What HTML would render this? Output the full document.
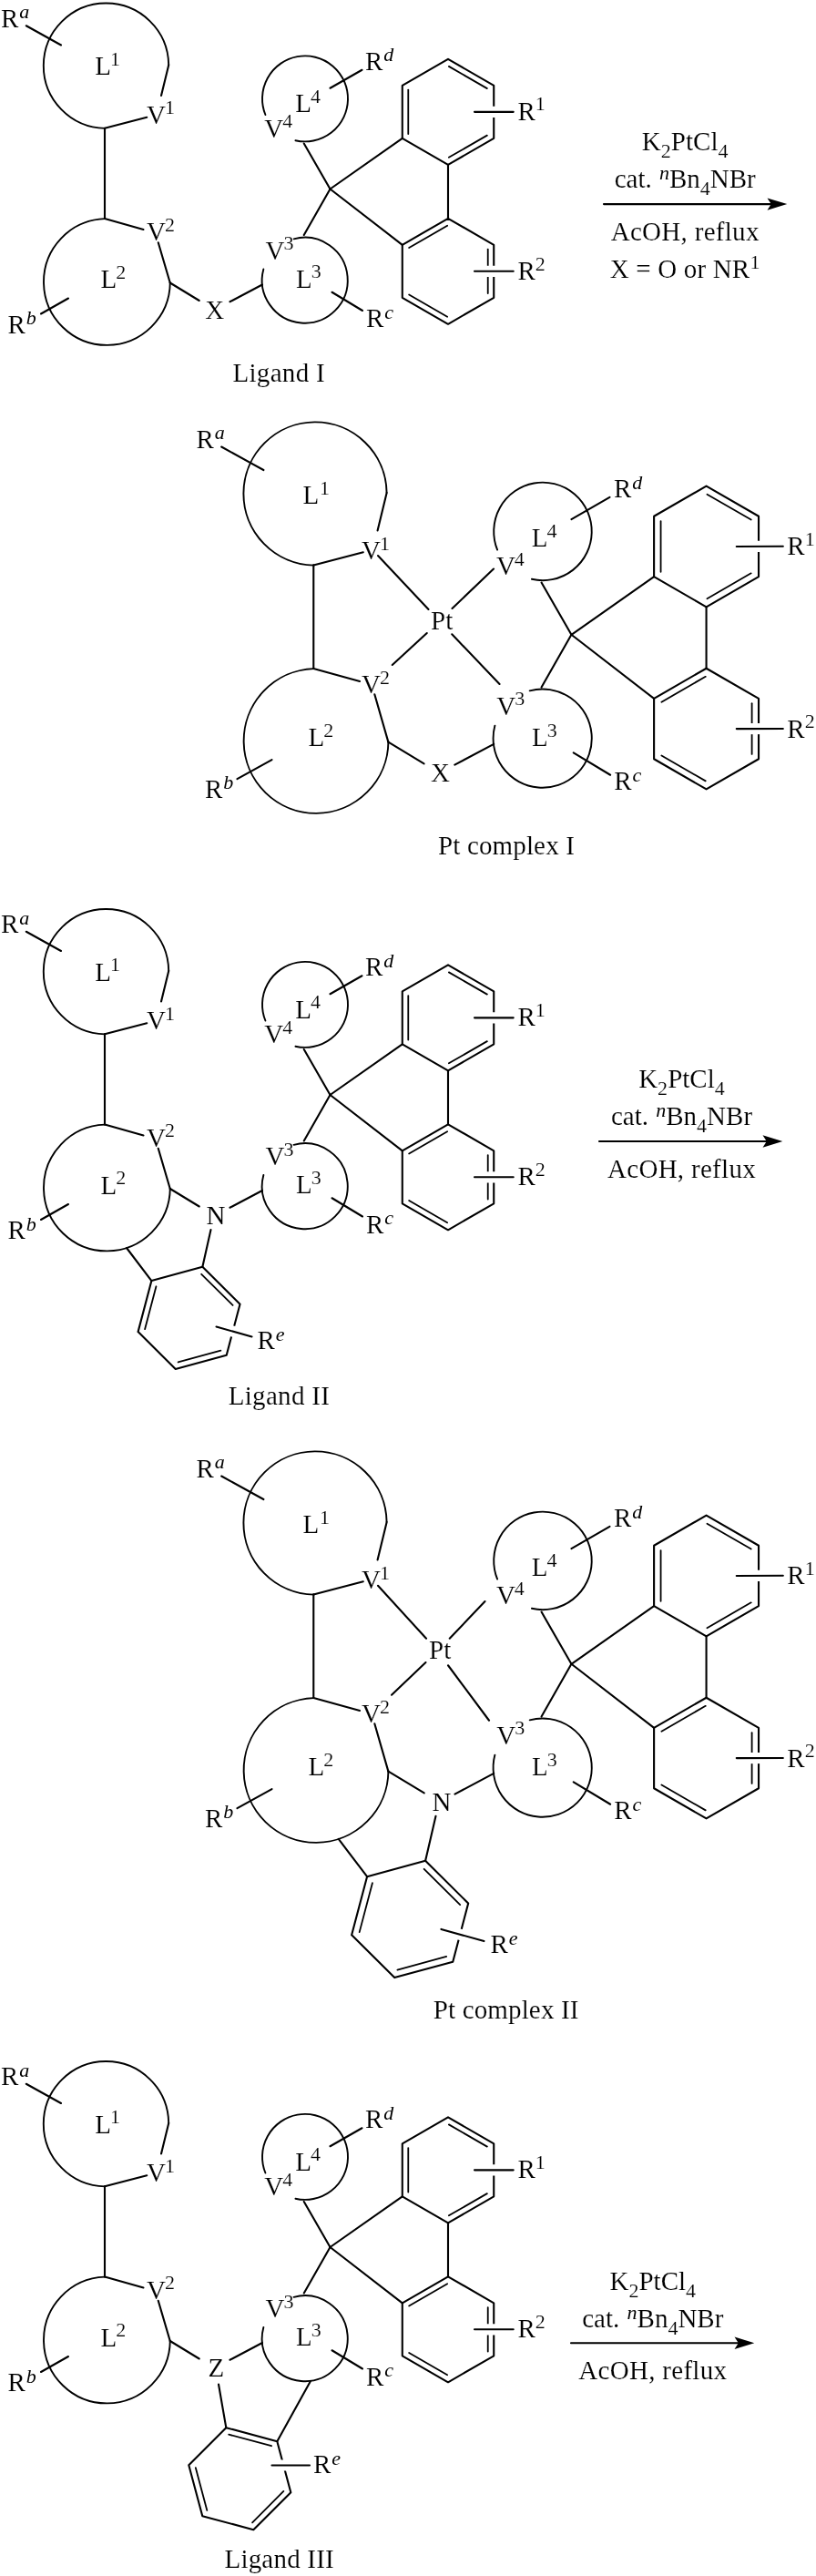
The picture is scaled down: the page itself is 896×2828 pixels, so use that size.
<!DOCTYPE html>
<html><head><meta charset="utf-8"><title>Pt complex synthesis</title>
<style>
html,body{margin:0;padding:0;background:#fff}
svg{display:block}
svg text{font-family:"Liberation Serif",serif;font-size:29px;fill:#000;stroke:#fff;stroke-width:0.15px;paint-order:fill stroke}
svg line,svg path,svg polygon{stroke:#000;stroke-linecap:round}
</style></head><body>
<svg style="filter:grayscale(1)" width="896" height="2828" viewBox="0 0 896 2828">
<rect width="896" height="2828" fill="#fff" stroke="none"/>
<path d="M115.3 140.89A68.7 68.7 0 1 1 185.19 71" stroke-width="1.9" fill="none"/>
<path d="M186.8 310.11A69.4 69.4 0 1 1 114.98 240.14" stroke-width="1.9" fill="none"/>
<path d="M322.59 262.3A47 47 0 1 1 289.35 295.54" stroke-width="1.9" fill="none"/>
<path d="M291.42 126.01A47 47 0 1 1 324.43 154.2" stroke-width="1.9" fill="none"/>
<line x1="185.25" y1="71.25" x2="177" y2="105" stroke-width="2.1"/>
<line x1="115" y1="140.75" x2="161.25" y2="128.75" stroke-width="2.1"/>
<line x1="115" y1="140.75" x2="115" y2="240" stroke-width="2.1"/>
<line x1="115" y1="240" x2="157.5" y2="252" stroke-width="2.1"/>
<line x1="173.75" y1="266.25" x2="186.75" y2="310.5" stroke-width="2.1"/>
<line x1="186.75" y1="310.5" x2="218.75" y2="330" stroke-width="2.1"/>
<line x1="252.5" y1="331.25" x2="288" y2="312.5" stroke-width="2.1"/>
<line x1="333.75" y1="157.5" x2="362.5" y2="207.5" stroke-width="2.1"/>
<line x1="362.5" y1="207.5" x2="333.75" y2="258" stroke-width="2.1"/>
<polygon points="492,64.85 542.23,93.85 542.23,151.85 492,180.85 441.77,151.85 441.77,93.85" fill="none" stroke-width="2.1" stroke-linejoin="round"/>
<line x1="492.87" y1="72.86" x2="534.86" y2="97.1" stroke-width="1.8"/>
<line x1="534.86" y1="148.6" x2="492.87" y2="172.84" stroke-width="1.8"/>
<line x1="448.27" y1="147.1" x2="448.27" y2="98.6" stroke-width="1.8"/>
<polygon points="492,239.8 542.23,268.8 542.23,326.8 492,355.8 441.77,326.8 441.77,268.8" fill="none" stroke-width="2.1" stroke-linejoin="round"/>
<line x1="535.73" y1="273.55" x2="535.73" y2="322.05" stroke-width="1.8"/>
<line x1="491.13" y1="347.79" x2="449.14" y2="323.55" stroke-width="1.8"/>
<line x1="449.14" y1="272.05" x2="491.13" y2="247.81" stroke-width="1.8"/>
<line x1="362.5" y1="207.5" x2="441.77" y2="151.85" stroke-width="2.1"/>
<line x1="362.5" y1="207.5" x2="441.77" y2="268.8" stroke-width="2.1"/>
<line x1="492" y1="180.85" x2="492" y2="239.8" stroke-width="2.1"/>
<line x1="521" y1="122.85" x2="563.7" y2="122.85" style="stroke:#fff;stroke-width:12.2;stroke-linecap:butt"/>
<line x1="521" y1="122.85" x2="563.7" y2="122.85" stroke-width="2.1"/>
<line x1="521" y1="297.8" x2="563.7" y2="297.8" style="stroke:#fff;stroke-width:12.2;stroke-linecap:butt"/>
<line x1="521" y1="297.8" x2="563.7" y2="297.8" stroke-width="2.1"/>
<line x1="28.75" y1="28.25" x2="67" y2="49.5" stroke-width="2.1"/>
<line x1="75" y1="327.5" x2="45" y2="344.5" stroke-width="2.1"/>
<line x1="364.5" y1="320.75" x2="398" y2="341" stroke-width="2.1"/>
<line x1="362.5" y1="96.75" x2="397.5" y2="76.75" stroke-width="2.1"/>
<text x="161" y="135.5" text-anchor="start">V<tspan dx="-1" dy="-10.3" font-size="22">1</tspan></text>
<text x="161" y="264.25" text-anchor="start">V<tspan dx="-1" dy="-10.3" font-size="22">2</tspan></text>
<text x="291.5" y="284.75" text-anchor="start">V<tspan dx="-1" dy="-10.3" font-size="22">3</tspan></text>
<text x="290.25" y="150.5" text-anchor="start">V<tspan dx="-1" dy="-10.3" font-size="22">4</tspan></text>
<text x="104.2" y="82" text-anchor="start">L<tspan dx="-1" dy="-10.3" font-size="22">1</tspan></text>
<text x="110.45" y="316.25" text-anchor="start">L<tspan dx="-1" dy="-10.3" font-size="22">2</tspan></text>
<text x="324.95" y="315.5" text-anchor="start">L<tspan dx="-1" dy="-10.3" font-size="22">3</tspan></text>
<text x="324.2" y="123" text-anchor="start">L<tspan dx="-1" dy="-10.3" font-size="22">4</tspan></text>
<text x="1" y="29.5" text-anchor="start">R<tspan dx="1" dy="-9.5" font-size="22" font-style="italic" stroke="none">a</tspan></text>
<text x="8.5" y="365.5" text-anchor="start">R<tspan dx="1" dy="-9.5" font-size="22" font-style="italic" stroke="none">b</tspan></text>
<text x="402" y="359" text-anchor="start">R<tspan dx="1" dy="-9.5" font-size="22" font-style="italic" stroke="none">c</tspan></text>
<text x="401" y="76.75" text-anchor="start">R<tspan dx="1" dy="-9.5" font-size="22" font-style="italic" stroke="none">d</tspan></text>
<text x="568.5" y="131.5" text-anchor="start">R<tspan dy="-10.3" font-size="22">1</tspan></text>
<text x="568.5" y="306.8" text-anchor="start">R<tspan dy="-10.3" font-size="22">2</tspan></text>
<text x="225.25" y="349.5" text-anchor="start">X</text>
<text x="255.5" y="419" text-anchor="start" letter-spacing="0.3">Ligand I</text>
<line x1="663" y1="224.1" x2="847.3" y2="224.1" stroke-width="2.1"/>
<path d="M864.3 224.1L842.5 217.4L846.8 224.1L842.5 230.8Z" style="fill:#000;stroke:none"/>
<text x="752.2" y="165" text-anchor="middle" letter-spacing="0.02">K<tspan dy="8" font-size="22">2</tspan><tspan dy="-8">PtCl</tspan><tspan dy="8" font-size="22">4</tspan></text>
<text x="752.2" y="206" text-anchor="middle">cat. <tspan dx="1" dy="-9.5" font-size="22" font-style="italic" stroke="none">n</tspan><tspan dy="9.5">Bn</tspan><tspan dy="8" font-size="22">4</tspan><tspan dy="-8">NBr</tspan></text>
<text x="752.2" y="263.5" text-anchor="middle" letter-spacing="0.3">AcOH, reflux</text>
<text x="752.2" y="305" text-anchor="middle" letter-spacing="0.17">X = O or NR<tspan dy="-10.3" font-size="22">1</tspan></text>
<path d="M115.3 1135.39A68.7 68.7 0 1 1 185.19 1065.5" stroke-width="1.9" fill="none"/>
<path d="M186.8 1304.61A69.4 69.4 0 1 1 114.98 1234.64" stroke-width="1.9" fill="none"/>
<path d="M322.59 1256.8A47 47 0 1 1 289.35 1290.04" stroke-width="1.9" fill="none"/>
<path d="M291.42 1120.51A47 47 0 1 1 324.43 1148.7" stroke-width="1.9" fill="none"/>
<line x1="185.25" y1="1065.75" x2="177" y2="1099.5" stroke-width="2.1"/>
<line x1="115" y1="1135.25" x2="161.25" y2="1123.25" stroke-width="2.1"/>
<line x1="115" y1="1135.25" x2="115" y2="1234.5" stroke-width="2.1"/>
<line x1="115" y1="1234.5" x2="157.5" y2="1246.5" stroke-width="2.1"/>
<line x1="173.75" y1="1260.75" x2="186.75" y2="1305" stroke-width="2.1"/>
<line x1="186.75" y1="1305" x2="218.75" y2="1324.5" stroke-width="2.1"/>
<line x1="252.5" y1="1325.75" x2="288" y2="1307" stroke-width="2.1"/>
<line x1="333.75" y1="1152" x2="362.5" y2="1202" stroke-width="2.1"/>
<line x1="362.5" y1="1202" x2="333.75" y2="1252.5" stroke-width="2.1"/>
<polygon points="492,1059.35 542.23,1088.35 542.23,1146.35 492,1175.35 441.77,1146.35 441.77,1088.35" fill="none" stroke-width="2.1" stroke-linejoin="round"/>
<line x1="492.87" y1="1067.36" x2="534.86" y2="1091.6" stroke-width="1.8"/>
<line x1="534.86" y1="1143.1" x2="492.87" y2="1167.34" stroke-width="1.8"/>
<line x1="448.27" y1="1141.6" x2="448.27" y2="1093.1" stroke-width="1.8"/>
<polygon points="492,1234.3 542.23,1263.3 542.23,1321.3 492,1350.3 441.77,1321.3 441.77,1263.3" fill="none" stroke-width="2.1" stroke-linejoin="round"/>
<line x1="535.73" y1="1268.05" x2="535.73" y2="1316.55" stroke-width="1.8"/>
<line x1="491.13" y1="1342.29" x2="449.14" y2="1318.05" stroke-width="1.8"/>
<line x1="449.14" y1="1266.55" x2="491.13" y2="1242.31" stroke-width="1.8"/>
<line x1="362.5" y1="1202" x2="441.77" y2="1146.35" stroke-width="2.1"/>
<line x1="362.5" y1="1202" x2="441.77" y2="1263.3" stroke-width="2.1"/>
<line x1="492" y1="1175.35" x2="492" y2="1234.3" stroke-width="2.1"/>
<line x1="521" y1="1117.35" x2="563.7" y2="1117.35" style="stroke:#fff;stroke-width:12.2;stroke-linecap:butt"/>
<line x1="521" y1="1117.35" x2="563.7" y2="1117.35" stroke-width="2.1"/>
<line x1="521" y1="1292.3" x2="563.7" y2="1292.3" style="stroke:#fff;stroke-width:12.2;stroke-linecap:butt"/>
<line x1="521" y1="1292.3" x2="563.7" y2="1292.3" stroke-width="2.1"/>
<line x1="28.75" y1="1022.75" x2="67" y2="1044" stroke-width="2.1"/>
<line x1="75" y1="1322" x2="45" y2="1339" stroke-width="2.1"/>
<line x1="364.5" y1="1315.25" x2="398" y2="1335.5" stroke-width="2.1"/>
<line x1="362.5" y1="1091.25" x2="397.5" y2="1071.25" stroke-width="2.1"/>
<text x="161" y="1130" text-anchor="start">V<tspan dx="-1" dy="-10.3" font-size="22">1</tspan></text>
<text x="161" y="1258.75" text-anchor="start">V<tspan dx="-1" dy="-10.3" font-size="22">2</tspan></text>
<text x="291.5" y="1279.25" text-anchor="start">V<tspan dx="-1" dy="-10.3" font-size="22">3</tspan></text>
<text x="290.25" y="1145" text-anchor="start">V<tspan dx="-1" dy="-10.3" font-size="22">4</tspan></text>
<text x="104.2" y="1076.5" text-anchor="start">L<tspan dx="-1" dy="-10.3" font-size="22">1</tspan></text>
<text x="110.45" y="1310.75" text-anchor="start">L<tspan dx="-1" dy="-10.3" font-size="22">2</tspan></text>
<text x="324.95" y="1310" text-anchor="start">L<tspan dx="-1" dy="-10.3" font-size="22">3</tspan></text>
<text x="324.2" y="1117.5" text-anchor="start">L<tspan dx="-1" dy="-10.3" font-size="22">4</tspan></text>
<text x="1" y="1024" text-anchor="start">R<tspan dx="1" dy="-9.5" font-size="22" font-style="italic" stroke="none">a</tspan></text>
<text x="8.5" y="1360" text-anchor="start">R<tspan dx="1" dy="-9.5" font-size="22" font-style="italic" stroke="none">b</tspan></text>
<text x="402" y="1353.5" text-anchor="start">R<tspan dx="1" dy="-9.5" font-size="22" font-style="italic" stroke="none">c</tspan></text>
<text x="401" y="1071.25" text-anchor="start">R<tspan dx="1" dy="-9.5" font-size="22" font-style="italic" stroke="none">d</tspan></text>
<text x="568.5" y="1126" text-anchor="start">R<tspan dy="-10.3" font-size="22">1</tspan></text>
<text x="568.5" y="1301.3" text-anchor="start">R<tspan dy="-10.3" font-size="22">2</tspan></text>
<text x="226.5" y="1344" text-anchor="start">N</text>
<polygon points="166.39,1406.03 222.37,1390.82 263.52,1431.69 248.71,1487.77 192.73,1502.98 151.58,1462.11" fill="none" stroke-width="2.1" stroke-linejoin="round"/>
<line x1="221.16" y1="1398.79" x2="255.57" y2="1432.96" stroke-width="1.8"/>
<line x1="242.41" y1="1482.74" x2="195.62" y2="1495.46" stroke-width="1.8"/>
<line x1="159.08" y1="1459.17" x2="171.47" y2="1412.29" stroke-width="1.8"/>
<line x1="139" y1="1370" x2="166.39" y2="1406.03" stroke-width="2.1"/>
<line x1="231.5" y1="1350" x2="222.37" y2="1390.82" stroke-width="2.1"/>
<line x1="237.5" y1="1456.5" x2="276.5" y2="1467.5" style="stroke:#fff;stroke-width:12.2;stroke-linecap:butt"/>
<line x1="237.5" y1="1456.5" x2="276.5" y2="1467.5" stroke-width="2.1"/>
<text x="282.5" y="1481" text-anchor="start">R<tspan dx="1" dy="-9.5" font-size="22" font-style="italic" stroke="none">e</tspan></text>
<text x="250.75" y="1541.75" text-anchor="start" letter-spacing="0.3">Ligand II</text>
<line x1="658" y1="1253" x2="842.3" y2="1253" stroke-width="2.1"/>
<path d="M859.3 1253L837.5 1246.3L841.8 1253L837.5 1259.7Z" style="fill:#000;stroke:none"/>
<text x="748.5" y="1194" text-anchor="middle" letter-spacing="0.02">K<tspan dy="8" font-size="22">2</tspan><tspan dy="-8">PtCl</tspan><tspan dy="8" font-size="22">4</tspan></text>
<text x="748.5" y="1235" text-anchor="middle">cat. <tspan dx="1" dy="-9.5" font-size="22" font-style="italic" stroke="none">n</tspan><tspan dy="9.5">Bn</tspan><tspan dy="8" font-size="22">4</tspan><tspan dy="-8">NBr</tspan></text>
<text x="748.5" y="1292.5" text-anchor="middle" letter-spacing="0.3">AcOH, reflux</text>
<path d="M115.3 2400.39A68.7 68.7 0 1 1 185.19 2330.5" stroke-width="1.9" fill="none"/>
<path d="M186.8 2569.61A69.4 69.4 0 1 1 114.98 2499.64" stroke-width="1.9" fill="none"/>
<path d="M322.59 2521.8A47 47 0 1 1 289.35 2555.04" stroke-width="1.9" fill="none"/>
<path d="M291.42 2385.51A47 47 0 1 1 324.43 2413.7" stroke-width="1.9" fill="none"/>
<line x1="185.25" y1="2330.75" x2="177" y2="2364.5" stroke-width="2.1"/>
<line x1="115" y1="2400.25" x2="161.25" y2="2388.25" stroke-width="2.1"/>
<line x1="115" y1="2400.25" x2="115" y2="2499.5" stroke-width="2.1"/>
<line x1="115" y1="2499.5" x2="157.5" y2="2511.5" stroke-width="2.1"/>
<line x1="173.75" y1="2525.75" x2="186.75" y2="2570" stroke-width="2.1"/>
<line x1="186.75" y1="2570" x2="218.75" y2="2589.5" stroke-width="2.1"/>
<line x1="252.5" y1="2590.75" x2="288" y2="2572" stroke-width="2.1"/>
<line x1="333.75" y1="2417" x2="362.5" y2="2467" stroke-width="2.1"/>
<line x1="362.5" y1="2467" x2="333.75" y2="2517.5" stroke-width="2.1"/>
<polygon points="492,2324.35 542.23,2353.35 542.23,2411.35 492,2440.35 441.77,2411.35 441.77,2353.35" fill="none" stroke-width="2.1" stroke-linejoin="round"/>
<line x1="492.87" y1="2332.36" x2="534.86" y2="2356.6" stroke-width="1.8"/>
<line x1="534.86" y1="2408.1" x2="492.87" y2="2432.34" stroke-width="1.8"/>
<line x1="448.27" y1="2406.6" x2="448.27" y2="2358.1" stroke-width="1.8"/>
<polygon points="492,2499.3 542.23,2528.3 542.23,2586.3 492,2615.3 441.77,2586.3 441.77,2528.3" fill="none" stroke-width="2.1" stroke-linejoin="round"/>
<line x1="535.73" y1="2533.05" x2="535.73" y2="2581.55" stroke-width="1.8"/>
<line x1="491.13" y1="2607.29" x2="449.14" y2="2583.05" stroke-width="1.8"/>
<line x1="449.14" y1="2531.55" x2="491.13" y2="2507.31" stroke-width="1.8"/>
<line x1="362.5" y1="2467" x2="441.77" y2="2411.35" stroke-width="2.1"/>
<line x1="362.5" y1="2467" x2="441.77" y2="2528.3" stroke-width="2.1"/>
<line x1="492" y1="2440.35" x2="492" y2="2499.3" stroke-width="2.1"/>
<line x1="521" y1="2382.35" x2="563.7" y2="2382.35" style="stroke:#fff;stroke-width:12.2;stroke-linecap:butt"/>
<line x1="521" y1="2382.35" x2="563.7" y2="2382.35" stroke-width="2.1"/>
<line x1="521" y1="2557.3" x2="563.7" y2="2557.3" style="stroke:#fff;stroke-width:12.2;stroke-linecap:butt"/>
<line x1="521" y1="2557.3" x2="563.7" y2="2557.3" stroke-width="2.1"/>
<line x1="28.75" y1="2287.75" x2="67" y2="2309" stroke-width="2.1"/>
<line x1="75" y1="2587" x2="45" y2="2604" stroke-width="2.1"/>
<line x1="364.5" y1="2580.25" x2="398" y2="2600.5" stroke-width="2.1"/>
<line x1="362.5" y1="2356.25" x2="397.5" y2="2336.25" stroke-width="2.1"/>
<text x="161" y="2395" text-anchor="start">V<tspan dx="-1" dy="-10.3" font-size="22">1</tspan></text>
<text x="161" y="2523.75" text-anchor="start">V<tspan dx="-1" dy="-10.3" font-size="22">2</tspan></text>
<text x="291.5" y="2544.25" text-anchor="start">V<tspan dx="-1" dy="-10.3" font-size="22">3</tspan></text>
<text x="290.25" y="2410" text-anchor="start">V<tspan dx="-1" dy="-10.3" font-size="22">4</tspan></text>
<text x="104.2" y="2341.5" text-anchor="start">L<tspan dx="-1" dy="-10.3" font-size="22">1</tspan></text>
<text x="110.45" y="2575.75" text-anchor="start">L<tspan dx="-1" dy="-10.3" font-size="22">2</tspan></text>
<text x="324.95" y="2575" text-anchor="start">L<tspan dx="-1" dy="-10.3" font-size="22">3</tspan></text>
<text x="324.2" y="2382.5" text-anchor="start">L<tspan dx="-1" dy="-10.3" font-size="22">4</tspan></text>
<text x="1" y="2289" text-anchor="start">R<tspan dx="1" dy="-9.5" font-size="22" font-style="italic" stroke="none">a</tspan></text>
<text x="8.5" y="2625" text-anchor="start">R<tspan dx="1" dy="-9.5" font-size="22" font-style="italic" stroke="none">b</tspan></text>
<text x="402" y="2618.5" text-anchor="start">R<tspan dx="1" dy="-9.5" font-size="22" font-style="italic" stroke="none">c</tspan></text>
<text x="401" y="2336.25" text-anchor="start">R<tspan dx="1" dy="-9.5" font-size="22" font-style="italic" stroke="none">d</tspan></text>
<text x="568.5" y="2391" text-anchor="start">R<tspan dy="-10.3" font-size="22">1</tspan></text>
<text x="568.5" y="2566.3" text-anchor="start">R<tspan dy="-10.3" font-size="22">2</tspan></text>
<text x="228.5" y="2609" text-anchor="start">Z</text>
<polygon points="248.29,2665.18 304.31,2680.19 319.32,2736.21 278.31,2777.22 222.29,2762.21 207.28,2706.19" fill="none" stroke-width="2.1" stroke-linejoin="round"/>
<line x1="251.2" y1="2672.68" x2="298.04" y2="2685.24" stroke-width="1.8"/>
<line x1="311.37" y1="2734.98" x2="277.08" y2="2769.27" stroke-width="1.8"/>
<line x1="227.34" y1="2755.94" x2="214.78" y2="2709.1" stroke-width="1.8"/>
<line x1="240" y1="2617.5" x2="248.29" y2="2665.18" stroke-width="2.1"/>
<line x1="341" y1="2614" x2="304.31" y2="2680.19" stroke-width="2.1"/>
<line x1="298.5" y1="2706.5" x2="340" y2="2706.5" style="stroke:#fff;stroke-width:12.2;stroke-linecap:butt"/>
<line x1="298.5" y1="2706.5" x2="340" y2="2706.5" stroke-width="2.1"/>
<text x="344" y="2715" text-anchor="start">R<tspan dx="1" dy="-9.5" font-size="22" font-style="italic" stroke="none">e</tspan></text>
<text x="246.5" y="2819.25" text-anchor="start" letter-spacing="0.2">Ligand III</text>
<line x1="627" y1="2572.2" x2="811.3" y2="2572.2" stroke-width="2.1"/>
<path d="M828.3 2572.2L806.5 2565.5L810.8 2572.2L806.5 2578.9Z" style="fill:#000;stroke:none"/>
<text x="716.8" y="2514" text-anchor="middle" letter-spacing="0.02">K<tspan dy="8" font-size="22">2</tspan><tspan dy="-8">PtCl</tspan><tspan dy="8" font-size="22">4</tspan></text>
<text x="716.8" y="2555" text-anchor="middle">cat. <tspan dx="1" dy="-9.5" font-size="22" font-style="italic" stroke="none">n</tspan><tspan dy="9.5">Bn</tspan><tspan dy="8" font-size="22">4</tspan><tspan dy="-8">NBr</tspan></text>
<text x="716.8" y="2611.5" text-anchor="middle" letter-spacing="0.3">AcOH, reflux</text>
<path d="M344.63 620.58A78.59 78.59 0 1 1 424.58 540.63" stroke-width="1.9" fill="none"/>
<path d="M426.42 814.16A79.39 79.39 0 1 1 344.26 734.13" stroke-width="1.9" fill="none"/>
<path d="M581.67 758.34A54.11 54.11 0 1 1 543.41 796.61" stroke-width="1.9" fill="none"/>
<path d="M546.11 603.55A53.77 53.77 0 1 1 583.87 635.8" stroke-width="1.9" fill="none"/>
<line x1="424.65" y1="540.91" x2="414.56" y2="582.48" stroke-width="2.1"/>
<line x1="344.28" y1="620.42" x2="398.81" y2="606.23" stroke-width="2.1"/>
<line x1="344.28" y1="620.42" x2="344.28" y2="733.96" stroke-width="2.1"/>
<line x1="344.28" y1="733.96" x2="395.06" y2="748.02" stroke-width="2.1"/>
<line x1="411.31" y1="762.27" x2="426.37" y2="814.62" stroke-width="2.1"/>
<line x1="426.37" y1="814.62" x2="465.56" y2="838.36" stroke-width="2.1"/>
<line x1="499.31" y1="839.61" x2="542.2" y2="816.9" stroke-width="2.1"/>
<line x1="594.53" y1="639.58" x2="627.42" y2="696.78" stroke-width="2.1"/>
<line x1="627.42" y1="696.78" x2="594.53" y2="754.56" stroke-width="2.1"/>
<polygon points="775.57,533.59 833.03,566.77 833.03,633.12 775.57,666.3 718.11,633.12 718.11,566.77" fill="none" stroke-width="2.1" stroke-linejoin="round"/>
<line x1="776.44" y1="542.68" x2="824.73" y2="570.56" stroke-width="1.8"/>
<line x1="824.73" y1="629.33" x2="776.44" y2="657.21" stroke-width="1.8"/>
<line x1="725.55" y1="627.83" x2="725.55" y2="572.06" stroke-width="1.8"/>
<polygon points="775.57,733.73 833.03,766.91 833.03,833.26 775.57,866.44 718.11,833.26 718.11,766.91" fill="none" stroke-width="2.1" stroke-linejoin="round"/>
<line x1="825.6" y1="772.2" x2="825.6" y2="827.97" stroke-width="1.8"/>
<line x1="774.71" y1="857.35" x2="726.41" y2="829.47" stroke-width="1.8"/>
<line x1="726.41" y1="770.7" x2="774.71" y2="742.82" stroke-width="1.8"/>
<line x1="627.42" y1="696.78" x2="718.11" y2="633.12" stroke-width="2.1"/>
<line x1="627.42" y1="696.78" x2="718.11" y2="766.91" stroke-width="2.1"/>
<line x1="775.57" y1="666.3" x2="775.57" y2="733.73" stroke-width="2.1"/>
<line x1="808.75" y1="599.94" x2="859.82" y2="599.82" style="stroke:#fff;stroke-width:12.2;stroke-linecap:butt"/>
<line x1="808.75" y1="599.94" x2="859.82" y2="599.82" stroke-width="2.1"/>
<line x1="808.75" y1="800.09" x2="859.82" y2="800.01" style="stroke:#fff;stroke-width:12.2;stroke-linecap:butt"/>
<line x1="808.75" y1="800.09" x2="859.82" y2="800.01" stroke-width="2.1"/>
<line x1="243.15" y1="490.53" x2="289.37" y2="516.03" stroke-width="2.1"/>
<line x1="298.52" y1="834.06" x2="260.48" y2="855.17" stroke-width="2.1"/>
<line x1="629.71" y1="826.34" x2="670.15" y2="850.73" stroke-width="2.1"/>
<line x1="627.42" y1="570.09" x2="669.5" y2="545.84" stroke-width="2.1"/>
<text x="397.06" y="613.98" text-anchor="start">V<tspan dx="-1" dy="-10.3" font-size="22">1</tspan></text>
<text x="397.06" y="761.27" text-anchor="start">V<tspan dx="-1" dy="-10.3" font-size="22">2</tspan></text>
<text x="545.35" y="784.72" text-anchor="start">V<tspan dx="-1" dy="-10.3" font-size="22">3</tspan></text>
<text x="544.92" y="631.14" text-anchor="start">V<tspan dx="-1" dy="-10.3" font-size="22">4</tspan></text>
<text x="332.39" y="552.84" text-anchor="start">L<tspan dx="1" dy="-10.3" font-size="22">1</tspan></text>
<text x="338.54" y="819.08" text-anchor="start">L<tspan dx="-1" dy="-10.3" font-size="22">2</tspan></text>
<text x="583.93" y="819.22" text-anchor="start">L<tspan dx="-1" dy="-10.3" font-size="22">3</tspan></text>
<text x="583.82" y="600" text-anchor="start">L<tspan dx="-1" dy="-10.3" font-size="22">4</tspan></text>
<text x="215.4" y="491.78" text-anchor="start">R<tspan dx="1" dy="-9.5" font-size="22" font-style="italic" stroke="none">a</tspan></text>
<text x="224.98" y="875.67" text-anchor="start">R<tspan dx="1" dy="-9.5" font-size="22" font-style="italic" stroke="none">b</tspan></text>
<text x="674.15" y="867.48" text-anchor="start">R<tspan dx="1" dy="-9.5" font-size="22" font-style="italic" stroke="none">c</tspan></text>
<text x="674" y="546.09" text-anchor="start">R<tspan dx="1" dy="-9.5" font-size="22" font-style="italic" stroke="none">d</tspan></text>
<text x="864.37" y="609.22" text-anchor="start">R<tspan dy="-10.3" font-size="22">1</tspan></text>
<text x="864.37" y="809.76" text-anchor="start">R<tspan dy="-10.3" font-size="22">2</tspan></text>
<text x="473.06" y="857.86" text-anchor="start">X</text>
<text x="473" y="690.5" text-anchor="start">Pt</text>
<line x1="415" y1="610" x2="470.5" y2="669" stroke-width="2.1"/>
<line x1="496.5" y1="668" x2="542" y2="624.5" stroke-width="2.1"/>
<line x1="468.75" y1="695" x2="430.75" y2="730" stroke-width="2.1"/>
<line x1="496.25" y1="696.25" x2="548.5" y2="751" stroke-width="2.1"/>
<text x="481" y="937.5" text-anchor="start" letter-spacing="0.15">Pt complex I</text>
<path d="M344.63 1750.58A78.59 78.59 0 1 1 424.58 1670.63" stroke-width="1.9" fill="none"/>
<path d="M426.42 1944.16A79.39 79.39 0 1 1 344.26 1864.13" stroke-width="1.9" fill="none"/>
<path d="M581.67 1888.34A54.11 54.11 0 1 1 543.41 1926.61" stroke-width="1.9" fill="none"/>
<path d="M546.11 1733.55A53.77 53.77 0 1 1 583.87 1765.8" stroke-width="1.9" fill="none"/>
<line x1="424.65" y1="1670.91" x2="414.56" y2="1712.48" stroke-width="2.1"/>
<line x1="344.28" y1="1750.42" x2="398.81" y2="1736.23" stroke-width="2.1"/>
<line x1="344.28" y1="1750.42" x2="344.28" y2="1863.96" stroke-width="2.1"/>
<line x1="344.28" y1="1863.96" x2="395.06" y2="1878.02" stroke-width="2.1"/>
<line x1="411.31" y1="1892.27" x2="426.37" y2="1944.62" stroke-width="2.1"/>
<line x1="426.37" y1="1944.62" x2="465.74" y2="1968.36" stroke-width="2.1"/>
<line x1="499.49" y1="1969.61" x2="542.2" y2="1946.9" stroke-width="2.1"/>
<line x1="594.53" y1="1769.58" x2="627.42" y2="1826.78" stroke-width="2.1"/>
<line x1="627.42" y1="1826.78" x2="594.53" y2="1884.56" stroke-width="2.1"/>
<polygon points="775.57,1663.59 833.03,1696.77 833.03,1763.12 775.57,1796.3 718.11,1763.12 718.11,1696.77" fill="none" stroke-width="2.1" stroke-linejoin="round"/>
<line x1="776.44" y1="1672.68" x2="824.73" y2="1700.56" stroke-width="1.8"/>
<line x1="824.73" y1="1759.33" x2="776.44" y2="1787.21" stroke-width="1.8"/>
<line x1="725.55" y1="1757.83" x2="725.55" y2="1702.06" stroke-width="1.8"/>
<polygon points="775.57,1863.73 833.03,1896.91 833.03,1963.26 775.57,1996.44 718.11,1963.26 718.11,1896.91" fill="none" stroke-width="2.1" stroke-linejoin="round"/>
<line x1="825.6" y1="1902.2" x2="825.6" y2="1957.97" stroke-width="1.8"/>
<line x1="774.71" y1="1987.35" x2="726.41" y2="1959.47" stroke-width="1.8"/>
<line x1="726.41" y1="1900.7" x2="774.71" y2="1872.82" stroke-width="1.8"/>
<line x1="627.42" y1="1826.78" x2="718.11" y2="1763.12" stroke-width="2.1"/>
<line x1="627.42" y1="1826.78" x2="718.11" y2="1896.91" stroke-width="2.1"/>
<line x1="775.57" y1="1796.3" x2="775.57" y2="1863.73" stroke-width="2.1"/>
<line x1="808.75" y1="1729.94" x2="859.82" y2="1729.82" style="stroke:#fff;stroke-width:12.2;stroke-linecap:butt"/>
<line x1="808.75" y1="1729.94" x2="859.82" y2="1729.82" stroke-width="2.1"/>
<line x1="808.75" y1="1930.09" x2="859.82" y2="1930.01" style="stroke:#fff;stroke-width:12.2;stroke-linecap:butt"/>
<line x1="808.75" y1="1930.09" x2="859.82" y2="1930.01" stroke-width="2.1"/>
<line x1="243.15" y1="1620.53" x2="289.37" y2="1646.03" stroke-width="2.1"/>
<line x1="298.52" y1="1964.06" x2="260.48" y2="1985.17" stroke-width="2.1"/>
<line x1="629.71" y1="1956.34" x2="670.15" y2="1980.73" stroke-width="2.1"/>
<line x1="627.42" y1="1700.09" x2="669.5" y2="1675.84" stroke-width="2.1"/>
<text x="397.06" y="1743.98" text-anchor="start">V<tspan dx="-1" dy="-10.3" font-size="22">1</tspan></text>
<text x="397.06" y="1891.27" text-anchor="start">V<tspan dx="-1" dy="-10.3" font-size="22">2</tspan></text>
<text x="545.35" y="1914.72" text-anchor="start">V<tspan dx="-1" dy="-10.3" font-size="22">3</tspan></text>
<text x="544.92" y="1761.14" text-anchor="start">V<tspan dx="-1" dy="-10.3" font-size="22">4</tspan></text>
<text x="332.39" y="1682.84" text-anchor="start">L<tspan dx="1" dy="-10.3" font-size="22">1</tspan></text>
<text x="338.54" y="1949.08" text-anchor="start">L<tspan dx="-1" dy="-10.3" font-size="22">2</tspan></text>
<text x="583.93" y="1949.22" text-anchor="start">L<tspan dx="-1" dy="-10.3" font-size="22">3</tspan></text>
<text x="583.82" y="1730" text-anchor="start">L<tspan dx="-1" dy="-10.3" font-size="22">4</tspan></text>
<text x="215.4" y="1621.78" text-anchor="start">R<tspan dx="1" dy="-9.5" font-size="22" font-style="italic" stroke="none">a</tspan></text>
<text x="224.98" y="2005.67" text-anchor="start">R<tspan dx="1" dy="-9.5" font-size="22" font-style="italic" stroke="none">b</tspan></text>
<text x="674.15" y="1997.48" text-anchor="start">R<tspan dx="1" dy="-9.5" font-size="22" font-style="italic" stroke="none">c</tspan></text>
<text x="674" y="1676.09" text-anchor="start">R<tspan dx="1" dy="-9.5" font-size="22" font-style="italic" stroke="none">d</tspan></text>
<text x="864.37" y="1739.22" text-anchor="start">R<tspan dy="-10.3" font-size="22">1</tspan></text>
<text x="864.37" y="1939.76" text-anchor="start">R<tspan dy="-10.3" font-size="22">2</tspan></text>
<text x="474.49" y="1987.86" text-anchor="start">N</text>
<polygon points="403.08,2060.19 467.11,2042.8 514.19,2089.55 497.24,2153.7 433.21,2171.1 386.13,2124.35" fill="none" stroke-width="2.1" stroke-linejoin="round"/>
<line x1="465.63" y1="2051.8" x2="505.2" y2="2091.1" stroke-width="1.8"/>
<line x1="490.18" y1="2147.91" x2="436.37" y2="2162.54" stroke-width="1.8"/>
<line x1="394.67" y1="2121.13" x2="408.92" y2="2067.21" stroke-width="1.8"/>
<line x1="371.74" y1="2018.98" x2="403.08" y2="2060.19" stroke-width="2.1"/>
<line x1="478.49" y1="1993.86" x2="467.11" y2="2042.8" stroke-width="2.1"/>
<line x1="484.42" y1="2117.93" x2="531.44" y2="2131.09" style="stroke:#fff;stroke-width:12.2;stroke-linecap:butt"/>
<line x1="484.42" y1="2117.93" x2="531.44" y2="2131.09" stroke-width="2.1"/>
<text x="538.44" y="2144.09" text-anchor="start">R<tspan dx="1" dy="-9.5" font-size="22" font-style="italic" stroke="none">e</tspan></text>
<text x="471" y="1821" text-anchor="start">Pt</text>
<line x1="415" y1="1740.75" x2="468" y2="1798.75" stroke-width="2.1"/>
<line x1="493.75" y1="1798.75" x2="532.5" y2="1758" stroke-width="2.1"/>
<line x1="467.5" y1="1825" x2="430" y2="1860.75" stroke-width="2.1"/>
<line x1="492" y1="1828.25" x2="537" y2="1888.75" stroke-width="2.1"/>
<text x="475.75" y="2215.75" text-anchor="start" letter-spacing="0.15">Pt complex II</text>
</svg>
</body></html>
